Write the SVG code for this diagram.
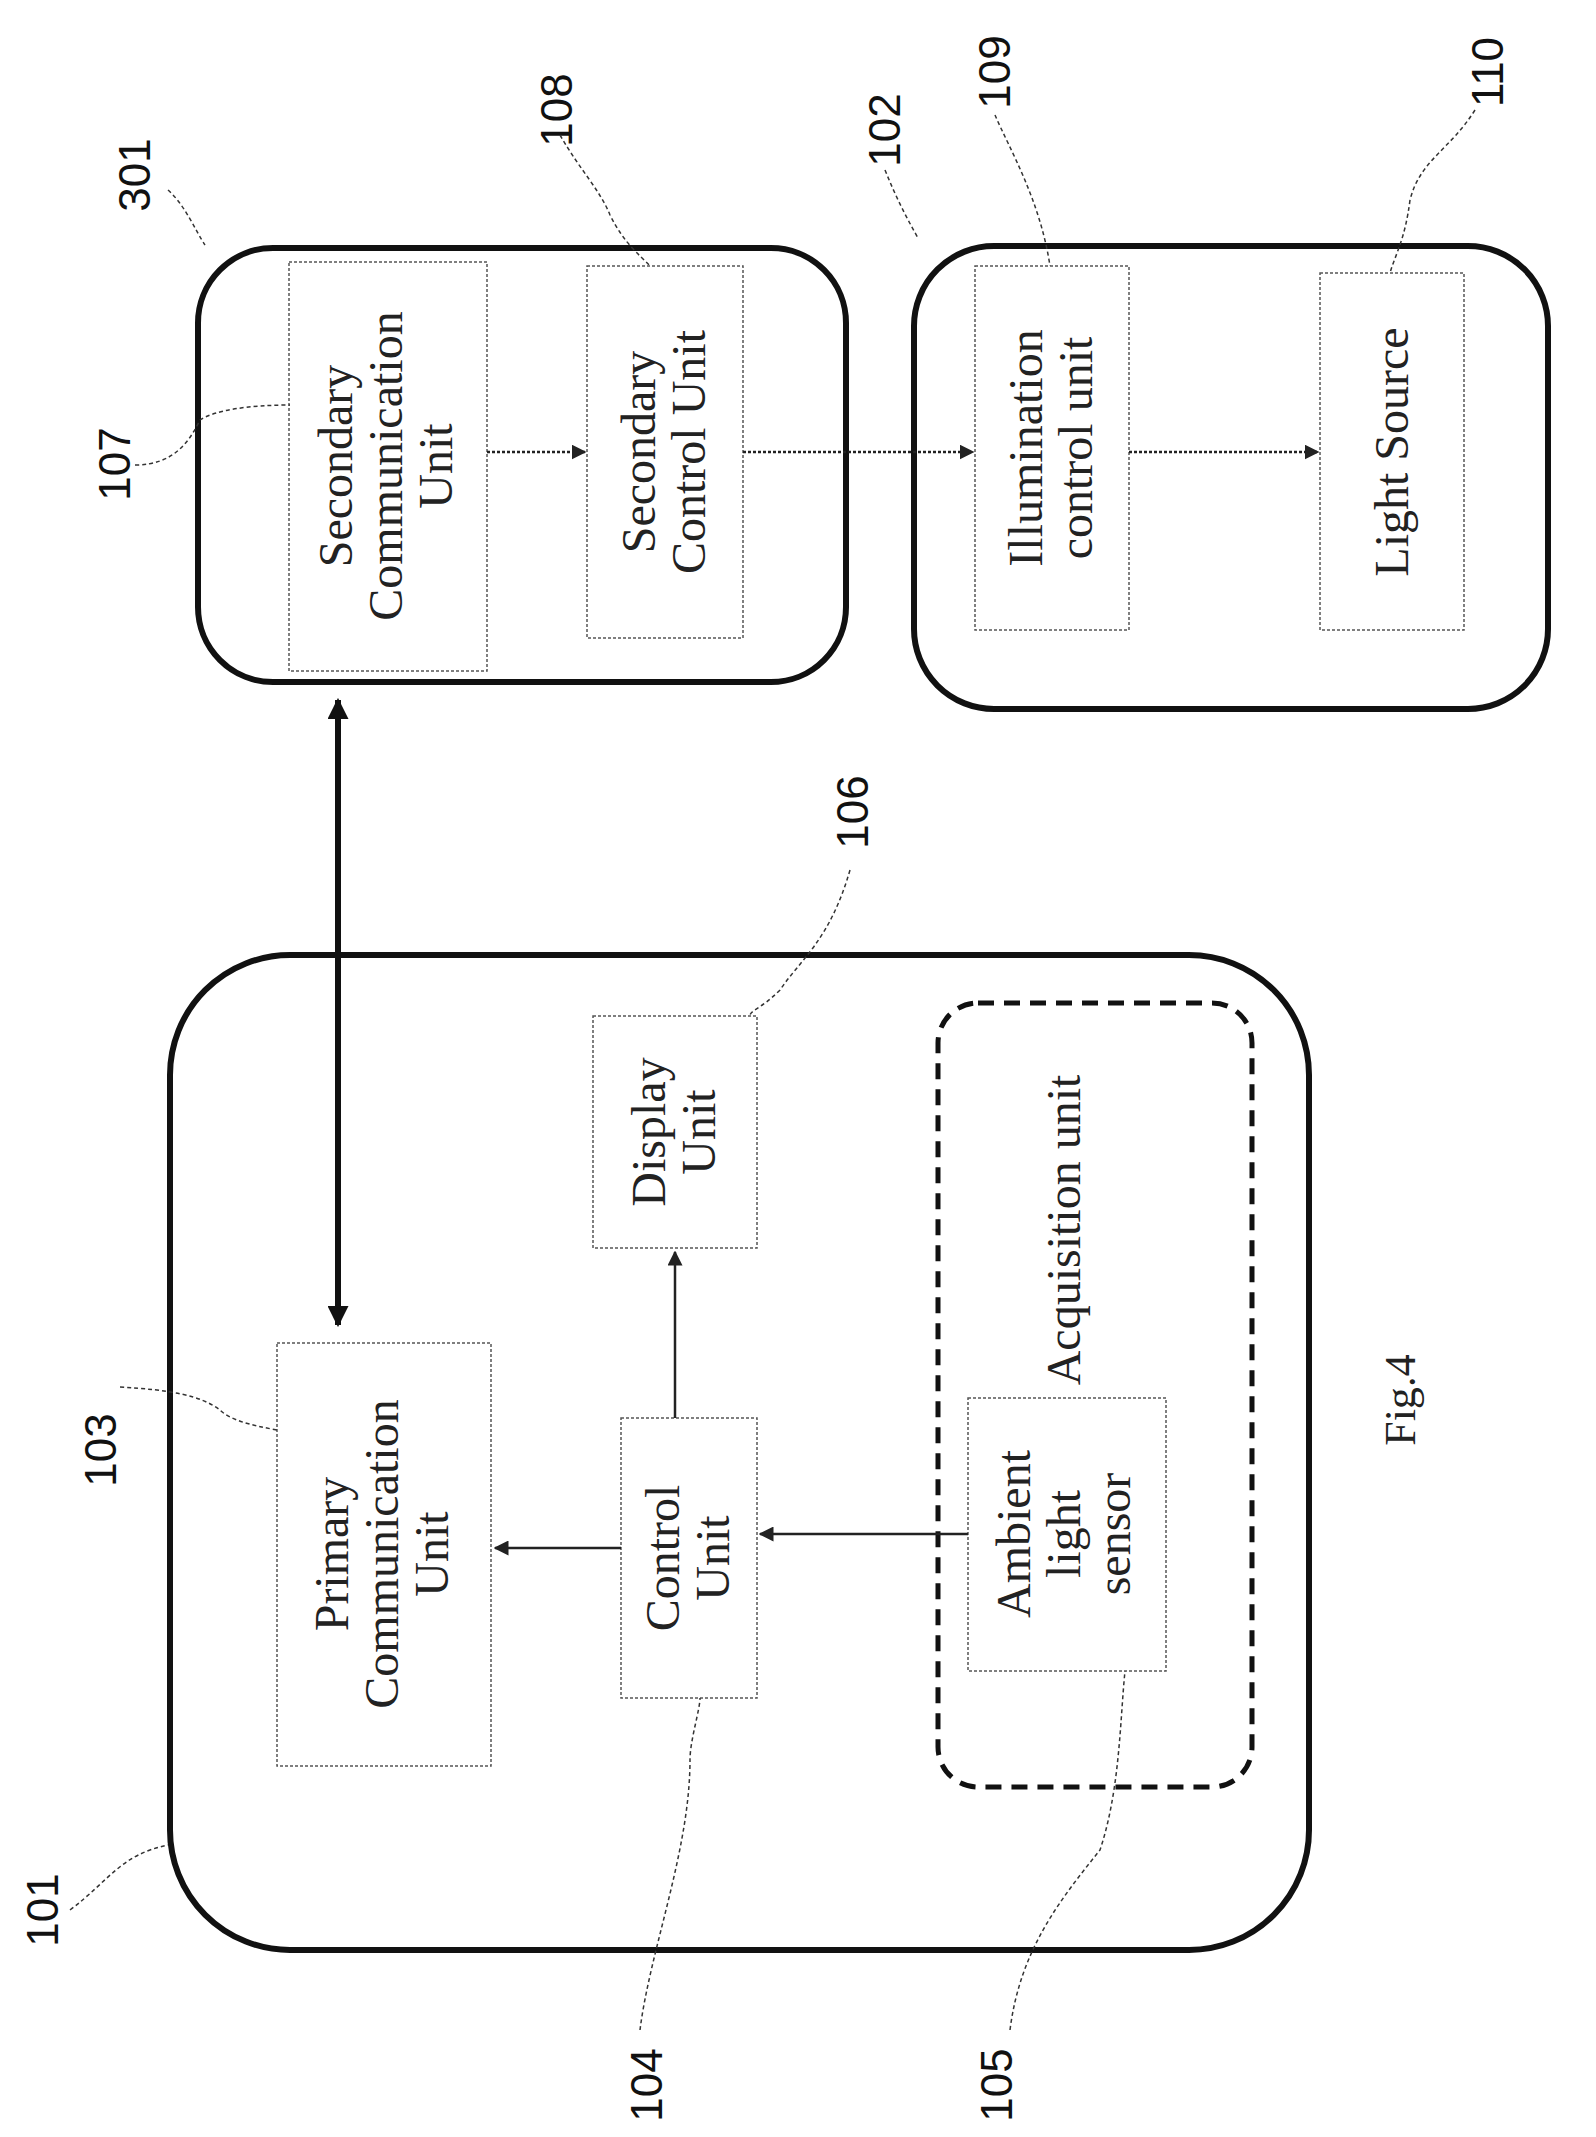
<svg xmlns="http://www.w3.org/2000/svg" width="1596" height="2137" viewBox="0 0 1596 2137">
<style>
.outer{fill:none;stroke:#111;stroke-width:6}
.inner{fill:#fff;stroke:#555;stroke-width:1.5;stroke-dasharray:3 2}
.dash{fill:none;stroke:#111;stroke-width:5;stroke-dasharray:16 10}
.t{font-family:"Liberation Serif",serif;font-size:48px;fill:#222;text-anchor:middle}
.n{font-family:"Liberation Sans",sans-serif;font-size:44px;fill:#111;text-anchor:middle}
.lead{fill:none;stroke:#333;stroke-width:1.5;stroke-dasharray:4 3}
.arr{stroke:#222;stroke-width:2.5;stroke-dasharray:3 2;fill:none;marker-end:url(#ah)}
.arrs{stroke:#222;stroke-width:2.5;fill:none;marker-end:url(#ah)}
</style>
<defs>
<marker id="ah" viewBox="0 0 10 10" refX="9" refY="5" markerWidth="6" markerHeight="6" orient="auto"><path d="M0,0L10,5L0,10z" fill="#222"/></marker>
<marker id="ahb" viewBox="0 0 10 10" refX="9" refY="5" markerWidth="3.5" markerHeight="3.5" orient="auto-start-reverse"><path d="M0,0L10,5L0,10z" fill="#111"/></marker>
</defs>
<rect width="1596" height="2137" fill="#fff"/>
<g id="n301"><rect class="outer" x="198" y="248" width="648" height="434" rx="75"/>
<text class="n" transform="translate(150,175) rotate(-90)">301</text>
<path class="lead" d="M168,190 C185,205 195,230 205,245"/></g>
<g id="n107"><rect class="inner" x="289" y="262" width="198" height="409"/>
<text class="t" transform="translate(388,466) rotate(-90)"><tspan x="0" y="-36">Secondary</tspan><tspan x="0" y="14">Communication</tspan><tspan x="0" y="64">Unit</tspan></text>
<text class="n" transform="translate(130,464) rotate(-90)">107</text>
<path class="lead" d="M135,465 C175,465 190,440 200,420 C215,410 250,405 290,405"/></g>
<g id="n108"><rect class="inner" x="587" y="266" width="156" height="372"/>
<text class="t" transform="translate(665,452) rotate(-90)"><tspan x="0" y="-10">Secondary</tspan><tspan x="0" y="40">Control Unit</tspan></text>
<text class="n" transform="translate(572,110) rotate(-90)">108</text>
<path class="lead" d="M560,135 C580,170 600,190 610,215 C625,245 640,255 650,266"/></g>
<g id="n102"><rect class="outer" x="914" y="246" width="634" height="463" rx="80"/>
<text class="n" transform="translate(900,130) rotate(-90)">102</text>
<path class="lead" d="M885,170 C895,195 905,215 918,238"/></g>
<g id="n109"><rect class="inner" x="975" y="266" width="154" height="364"/>
<text class="t" transform="translate(1052,448) rotate(-90)"><tspan x="0" y="-10">Illumination</tspan><tspan x="0" y="40">control unit</tspan></text>
<text class="n" transform="translate(1010,72) rotate(-90)">109</text>
<path class="lead" d="M995,115 C1010,150 1040,200 1050,266"/></g>
<g id="n110"><rect class="inner" x="1320" y="273" width="144" height="357"/>
<text class="t" transform="translate(1392,452) rotate(-90)"><tspan x="0" y="16">Light Source</tspan></text>
<text class="n" transform="translate(1503,72) rotate(-90)">110</text>
<path class="lead" d="M1475,110 C1450,150 1420,160 1410,200 C1405,240 1395,255 1390,273"/></g>
<g id="n101"><rect class="outer" x="170" y="955" width="1139" height="995" rx="120"/>
<text class="n" transform="translate(58,1910) rotate(-90)">101</text>
<path class="lead" d="M70,1910 C110,1880 120,1855 168,1845"/></g>
<g id="n103"><rect class="inner" x="277" y="1343" width="214" height="423"/>
<text class="t" transform="translate(384,1554) rotate(-90)"><tspan x="0" y="-36">Primary</tspan><tspan x="0" y="14">Communication</tspan><tspan x="0" y="64">Unit</tspan></text>
<text class="n" transform="translate(116,1450) rotate(-90)">103</text>
<path class="lead" d="M120,1387 C170,1390 200,1395 220,1410 C230,1420 250,1425 277,1430"/></g>
<g id="n104"><rect class="inner" x="621" y="1418" width="136" height="280"/>
<text class="t" transform="translate(689,1558) rotate(-90)"><tspan x="0" y="-10">Control</tspan><tspan x="0" y="40">Unit</tspan></text>
<text class="n" transform="translate(662,2085) rotate(-90)">104</text>
<path class="lead" d="M640,2030 C650,1950 690,1850 690,1760 C690,1740 700,1710 700,1698"/></g>
<g id="n106"><rect class="inner" x="593" y="1016" width="164" height="232"/>
<text class="t" transform="translate(675,1132) rotate(-90)"><tspan x="0" y="-10">Display</tspan><tspan x="0" y="40">Unit</tspan></text>
<text class="n" transform="translate(868,812) rotate(-90)">106</text>
<path class="lead" d="M850,870 C830,940 800,960 780,990 C760,1010 750,1010 750,1016"/></g>
<g id="n105"><rect class="dash" x="938" y="1003" width="314" height="784" rx="40"/>
<text class="t" transform="translate(1080,1230) rotate(-90)">Acquisition unit</text>
<rect class="inner" x="968" y="1398" width="198" height="273"/>
<text class="t" transform="translate(1066,1534) rotate(-90)"><tspan x="0" y="-36">Ambient</tspan><tspan x="0" y="14">light</tspan><tspan x="0" y="64">sensor</tspan></text>
<text class="n" transform="translate(1012,2085) rotate(-90)">105</text>
<path class="lead" d="M1010,2030 C1020,1950 1060,1900 1100,1850 C1120,1790 1120,1720 1125,1671"/></g>
<text class="t" style="font-size:44px" transform="translate(1415,1400) rotate(-90)">Fig.4</text>
<g id="connectors">
<line class="arr" x1="487" y1="452" x2="585" y2="452"/>
<line class="arr" x1="743" y1="452" x2="973" y2="452"/>
<line class="arr" x1="1129" y1="452" x2="1318" y2="452"/>
<line x1="338" y1="700" x2="338" y2="1325" stroke="#111" stroke-width="6" marker-start="url(#ahb)" marker-end="url(#ahb)"/>
<line class="arrs" x1="968" y1="1534" x2="760" y2="1534"/>
<line class="arrs" x1="621" y1="1548" x2="495" y2="1548"/>
<line class="arrs" x1="675" y1="1418" x2="675" y2="1252"/>
</g>
</svg>
